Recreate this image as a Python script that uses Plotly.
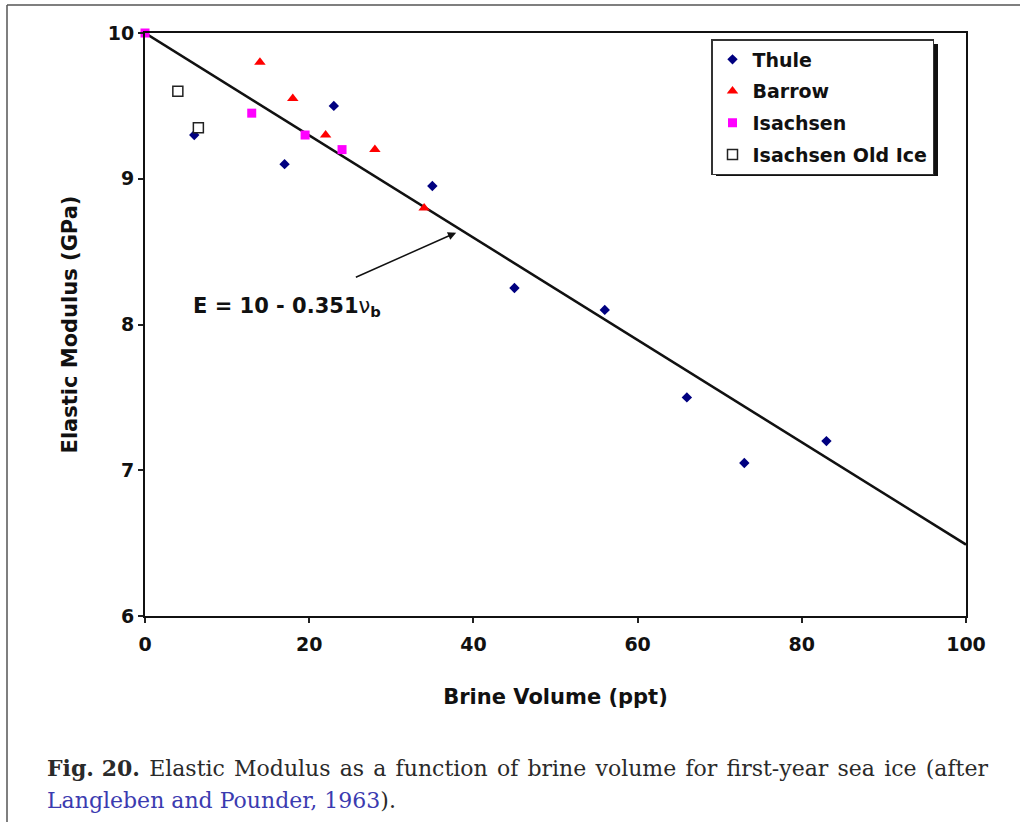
import plotly.graph_objects as go

# ---- data ----
thule_x = [6, 17, 23, 35, 45, 56, 66, 73, 83]
thule_y = [9.3, 9.1, 9.5, 8.95, 8.25, 8.1, 7.5, 7.05, 7.2]
barrow_x = [14, 18, 22, 28, 34]
barrow_y = [9.8, 9.55, 9.3, 9.2, 8.8]
isachsen_x = [0, 13, 19.5, 24]
isachsen_y = [10, 9.45, 9.3, 9.2]
oldice_x = [4, 6.5]
oldice_y = [9.6, 9.35]

# fit E = 10 - 0.351 * v_b, with v_b in percent (ppt / 10)
fit_intercept = 10.0
fit_slope = -0.351
fit_x = [0, 100]
fit_y = [fit_intercept + fit_slope * (v / 10.0) for v in fit_x]

x_ticks = [0, 20, 40, 60, 80, 100]
y_ticks = [6, 7, 8, 9, 10]

W, H = 1020, 822
L, R, T, B = 145, 54, 33, 206
PW, PH = W - L - R, H - T - B


def px(xp):
    return (xp - L) / PW


def py(yp):
    return (H - B - yp) / PH


fig = go.Figure()

fig.add_trace(go.Scatter(x=fit_x, y=fit_y, mode="lines", showlegend=False,
                         line=dict(color="#111111", width=2.5), hoverinfo="skip"))
fig.add_trace(go.Scatter(x=thule_x, y=thule_y, mode="markers", name="Thule", legendgroup="a",
                         marker=dict(symbol="diamond", size=8, color="#000080"), cliponaxis=False))
fig.add_trace(go.Scatter(x=barrow_x, y=barrow_y, mode="markers", name="Barrow", legendgroup="b",
                         marker=dict(symbol="triangle-up", size=10, color="#ff0000"), cliponaxis=False))
fig.add_trace(go.Scatter(x=isachsen_x, y=isachsen_y, mode="markers", name="Isachsen", legendgroup="c",
                         marker=dict(symbol="square", size=9, color="#ff00ff"), cliponaxis=False))
fig.add_trace(go.Scatter(x=oldice_x, y=oldice_y, mode="markers", name="Isachsen Old Ice", legendgroup="d",
                         marker=dict(symbol="square", size=10, color="white",
                                     line=dict(color="#222222", width=1.5)), cliponaxis=False))

tickfont = dict(family="DejaVu Sans", size=19, color="#111111", weight="bold")
titlefont = dict(family="DejaVu Sans", size=21, color="#111111", weight="bold")

fig.update_xaxes(range=[0, 100], tickvals=x_ticks, ticks="outside", ticklen=5, tickwidth=1.5,
                 tickcolor="#222", showline=True, linecolor="#111", linewidth=2, mirror=True,
                 showgrid=False, zeroline=False, tickfont=tickfont, ticklabelstandoff=5,
                 title=dict(text="Brine Volume (ppt)", font=titlefont, standoff=36))
fig.update_yaxes(range=[6, 10], tickvals=y_ticks, ticks="outside", ticklen=5, tickwidth=1.5,
                 tickcolor="#222", showline=True, linecolor="#111", linewidth=2, mirror=True,
                 showgrid=False, zeroline=False, tickfont=tickfont,
                 title=dict(text="Elastic Modulus (GPa)", font=titlefont, standoff=24))

# legend shadow (offset box behind the legend)
fig.add_shape(type="rect", xref="paper", yref="paper",
              x0=px(716), x1=px(938), y0=py(176), y1=py(44),
              fillcolor="#111111", line=dict(width=0), layer="above")

fig.update_layout(
    width=W, height=H,
    margin=dict(l=L, r=R, t=T, b=B),
    paper_bgcolor="white", plot_bgcolor="white",
    font=dict(family="DejaVu Sans", color="#111111"),
    legend=dict(x=px(711), y=py(39), xanchor="left", yanchor="top",
                bgcolor="white", bordercolor="#333333", borderwidth=1.5,
                font=dict(family="DejaVu Sans", size=19, color="#111111", weight="bold"),
                itemwidth=30, tracegroupgap=4),
    showlegend=True,
)

# equation + arrow
fig.add_annotation(x=37.9, y=8.63, ax=25.5, ay=8.32, axref="x", ayref="y", xref="x", yref="y",
                   text="", showarrow=True, arrowhead=2, arrowsize=1.1, arrowwidth=1.5,
                   arrowcolor="#111111")
fig.add_annotation(x=17.3, y=8.12, xref="x", yref="y", showarrow=False,
                   text="E = 10 - 0.351<span style='font-weight:normal'>ν</span><sub>b</sub>",
                   font=dict(family="DejaVu Sans", size=21, color="#111111", weight="bold"))

# caption
capfont = dict(family="DejaVu Serif", size=22, color="#2a2a2a")
line1 = "Fig. 20.| Elastic Modulus as a function of brine volume for first-year sea ice (after"
head, rest = line1.split("|")
rest = rest.replace(" ", " \u200a")
fig.add_annotation(x=px(45), y=py(768), xref="paper", yref="paper", xanchor="left", yanchor="middle",
                   showarrow=False, font=capfont,
                   text="<b>" + head + "</b>" + rest)
fig.add_annotation(x=px(45), y=py(800), xref="paper", yref="paper", xanchor="left", yanchor="middle",
                   showarrow=False, font=capfont,
                   text="<span style='color:#3b3bb0'>Langleben and Pounder, 1963</span>).")

# outer frame lines of the figure panel
fig.add_shape(type="line", xref="paper", yref="paper", x0=px(7), x1=px(7), y0=py(5), y1=py(822),
              line=dict(color="#555555", width=1.5))
fig.add_shape(type="line", xref="paper", yref="paper", x0=px(7), x1=px(1020), y0=py(5), y1=py(5),
              line=dict(color="#555555", width=1.5))

fig.write_html("out.html")
